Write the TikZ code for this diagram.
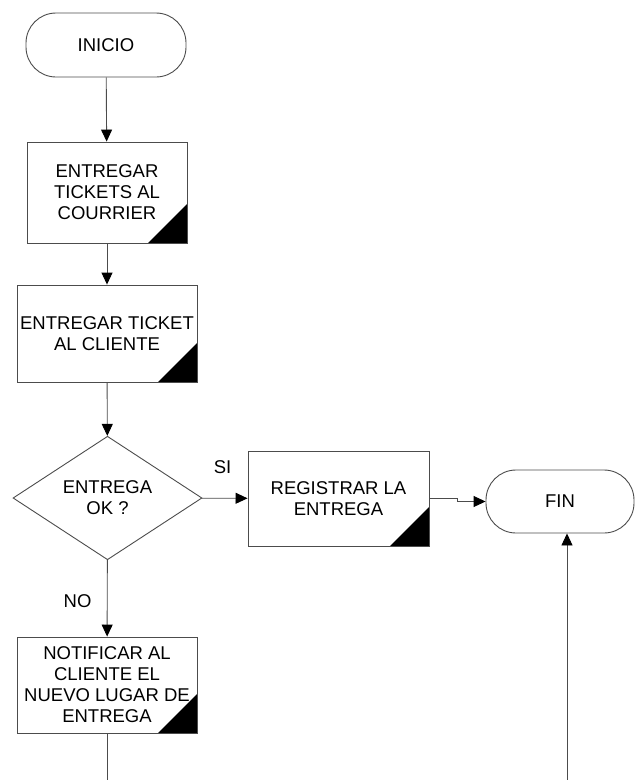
\documentclass[tikz,border=0pt]{standalone}
\usepackage{fontspec}
\setmainfont{Liberation Sans}
\usepackage{tikz}
\usetikzlibrary{shapes.geometric,arrows.meta,positioning}

\begin{document}
\begin{tikzpicture}[x=1pt, y=-1pt,
    every node/.style={font=\fontsize{18.5}{21}\selectfont},
    line/.style={draw=black!70, line width=0.9pt},
    arr/.style={line, -{Triangle[length=12pt,width=11pt,color=black]}},
    term/.style={draw=black!70, line width=0.9pt, rectangle, rounded corners=30pt,
                 minimum height=64pt, inner sep=2pt},
    proc/.style={draw=black!70, line width=0.9pt, rectangle, align=center, inner sep=2pt,
                 path picture={\fill[black] (path picture bounding box.south east)
                   -- ([xshift=-39pt]path picture bounding box.south east)
                   -- ([yshift=39pt]path picture bounding box.south east) -- cycle;}},
    dec/.style={draw=black!70, line width=0.9pt, diamond, align=center, inner sep=0pt,
                minimum width=189pt, minimum height=118pt}]
      \useasboundingbox (0,0) rectangle (636,780);

      \node[term, minimum width=160pt] (I)  at (106,45)    {INICIO};
      \node[proc, minimum width=160pt, minimum height=101pt] (T1) at (107,192.5)
            {ENTREGAR\\TICKETS AL\\COURRIER};
      \node[proc, minimum width=180pt, minimum height=97pt]  (T2) at (107,333.5)
            {ENTREGAR TICKET\\AL CLIENTE};
      \node[dec]                                             (D)  at (107.5,498)
            {ENTREGA\\OK ?};
      \node[proc, minimum width=181pt, minimum height=95pt]  (R)  at (338.5,498.5)
            {REGISTRAR LA\\ENTREGA};
      \node[term, minimum width=148pt, minimum height=63pt]  (F)  at (560,501.5) {FIN};
      \node[proc, minimum width=180pt, minimum height=96pt]  (N)  at (107,685)
            {NOTIFICAR AL\\CLIENTE EL\\NUEVO LUGAR DE\\ENTREGA};

      \coordinate (NB) at (107,780);
      \coordinate (FB) at (567,780);

      \path[arr] (I)  edge                             (T1)
                 (T1) edge                             (T2)
                 (T2) edge                             (D)
                 (D)  edge node[above=21pt, pos=0.45] {SI} (R)
                 (D)  edge node[left=12pt, pos=0.54]  {NO} (N)
      ;
      \draw[arr] (R.east) -- ++(28,0) |- (F.west);
      \draw[arr] (FB) -- (FB |- F.south);
      \draw[line] (N) -- (NB);
\end{tikzpicture}
\end{document}
